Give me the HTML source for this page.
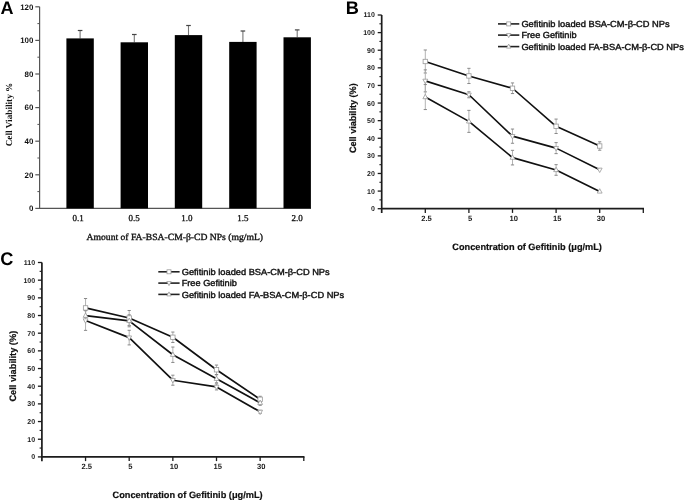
<!DOCTYPE html>
<html><head><meta charset="utf-8"><style>
html,body{margin:0;padding:0;background:#fff;}
body{width:685px;height:501px;overflow:hidden;font-family:"Liberation Sans", sans-serif;}
svg{display:block;will-change:transform;filter:blur(0.35px);} text{text-rendering:geometricPrecision;}
</style></head><body>
<svg width="685" height="501" viewBox="0 0 685 501">
<rect width="685" height="501" fill="#fff"/>
<text x="0.5" y="13.8" font-family="&quot;Liberation Sans&quot;, sans-serif" font-weight="bold" font-size="18" fill="#000">A</text>
<path d="M39.6 6.8V208.4H311.0" fill="none" stroke="#555" stroke-width="1.2"/>
<line x1="35.3" y1="208.4" x2="39.6" y2="208.4" stroke="#555" stroke-width="1.2"/>
<text x="33.3" y="211.2" text-anchor="end" font-family="&quot;Liberation Sans&quot;, sans-serif" font-weight="bold" font-size="7.9" fill="#111">0</text>
<line x1="37.4" y1="191.6" x2="39.6" y2="191.6" stroke="#555" stroke-width="1"/>
<line x1="35.3" y1="174.8" x2="39.6" y2="174.8" stroke="#555" stroke-width="1.2"/>
<text x="33.3" y="177.6" text-anchor="end" font-family="&quot;Liberation Sans&quot;, sans-serif" font-weight="bold" font-size="7.9" fill="#111">20</text>
<line x1="37.4" y1="158" x2="39.6" y2="158" stroke="#555" stroke-width="1"/>
<line x1="35.3" y1="141.2" x2="39.6" y2="141.2" stroke="#555" stroke-width="1.2"/>
<text x="33.3" y="144" text-anchor="end" font-family="&quot;Liberation Sans&quot;, sans-serif" font-weight="bold" font-size="7.9" fill="#111">40</text>
<line x1="37.4" y1="124.4" x2="39.6" y2="124.4" stroke="#555" stroke-width="1"/>
<line x1="35.3" y1="107.6" x2="39.6" y2="107.6" stroke="#555" stroke-width="1.2"/>
<text x="33.3" y="110.4" text-anchor="end" font-family="&quot;Liberation Sans&quot;, sans-serif" font-weight="bold" font-size="7.9" fill="#111">60</text>
<line x1="37.4" y1="90.8" x2="39.6" y2="90.8" stroke="#555" stroke-width="1"/>
<line x1="35.3" y1="74" x2="39.6" y2="74" stroke="#555" stroke-width="1.2"/>
<text x="33.3" y="76.8" text-anchor="end" font-family="&quot;Liberation Sans&quot;, sans-serif" font-weight="bold" font-size="7.9" fill="#111">80</text>
<line x1="37.4" y1="57.2" x2="39.6" y2="57.2" stroke="#555" stroke-width="1"/>
<line x1="35.3" y1="40.4" x2="39.6" y2="40.4" stroke="#555" stroke-width="1.2"/>
<text x="33.3" y="43.2" text-anchor="end" font-family="&quot;Liberation Sans&quot;, sans-serif" font-weight="bold" font-size="7.9" fill="#111">100</text>
<line x1="37.4" y1="23.6" x2="39.6" y2="23.6" stroke="#555" stroke-width="1"/>
<line x1="35.3" y1="6.8" x2="39.6" y2="6.8" stroke="#555" stroke-width="1.2"/>
<text x="33.3" y="9.6" text-anchor="end" font-family="&quot;Liberation Sans&quot;, sans-serif" font-weight="bold" font-size="7.9" fill="#111">120</text>
<line x1="80.1" y1="30.5" x2="80.1" y2="38.4" stroke="#777" stroke-width="1.1"/>
<line x1="77.8" y1="30.5" x2="82.4" y2="30.5" stroke="#444" stroke-width="1.2"/>
<rect x="66.4" y="38.4" width="27.4" height="170" fill="#000"/>
<text x="78.05" y="220.5" text-anchor="middle" font-family="&quot;Liberation Serif&quot;, serif" font-size="9" fill="#111" stroke="#111" stroke-width="0.3">0.1</text>
<line x1="134.3" y1="34.5" x2="134.3" y2="42.3" stroke="#777" stroke-width="1.1"/>
<line x1="132" y1="34.5" x2="136.6" y2="34.5" stroke="#444" stroke-width="1.2"/>
<rect x="120.6" y="42.3" width="27.4" height="166.1" fill="#000"/>
<text x="134.2" y="220.5" text-anchor="middle" font-family="&quot;Liberation Serif&quot;, serif" font-size="9" fill="#111" stroke="#111" stroke-width="0.3">0.5</text>
<line x1="188.5" y1="25.5" x2="188.5" y2="35.1" stroke="#777" stroke-width="1.1"/>
<line x1="186.2" y1="25.5" x2="190.8" y2="25.5" stroke="#444" stroke-width="1.2"/>
<rect x="174.8" y="35.1" width="27.4" height="173.3" fill="#000"/>
<text x="186.9" y="220.5" text-anchor="middle" font-family="&quot;Liberation Serif&quot;, serif" font-size="9" fill="#111" stroke="#111" stroke-width="0.3">1.0</text>
<line x1="242.9" y1="31" x2="242.9" y2="41.9" stroke="#777" stroke-width="1.1"/>
<line x1="240.6" y1="31" x2="245.2" y2="31" stroke="#444" stroke-width="1.2"/>
<rect x="229.2" y="41.9" width="27.4" height="166.5" fill="#000"/>
<text x="242.9" y="220.5" text-anchor="middle" font-family="&quot;Liberation Serif&quot;, serif" font-size="9" fill="#111" stroke="#111" stroke-width="0.3">1.5</text>
<line x1="297.2" y1="29.9" x2="297.2" y2="37.3" stroke="#777" stroke-width="1.1"/>
<line x1="294.9" y1="29.9" x2="299.5" y2="29.9" stroke="#444" stroke-width="1.2"/>
<rect x="283.5" y="37.3" width="27.4" height="171.1" fill="#000"/>
<text x="297.2" y="220.5" text-anchor="middle" font-family="&quot;Liberation Serif&quot;, serif" font-size="9" fill="#111" stroke="#111" stroke-width="0.3">2.0</text>
<text x="86.6" y="240.2" font-family="&quot;Liberation Serif&quot;, serif" font-size="9.4" fill="#111" textLength="176.4" lengthAdjust="spacingAndGlyphs" stroke="#111" stroke-width="0.35">Amount of FA-BSA-CM-&#946;-CD NPs (mg/mL)</text>
<text transform="translate(12.3 114.5) rotate(-90)" text-anchor="middle" font-family="&quot;Liberation Serif&quot;, serif" font-weight="bold" font-size="9.2" fill="#111" textLength="63.6" lengthAdjust="spacingAndGlyphs">Cell Viability %</text>
<text x="345.8" y="13.6" font-family="&quot;Liberation Sans&quot;, sans-serif" font-weight="bold" font-size="18.2" fill="#000">B</text>
<path d="M381.7 15V213M380.9 208.7H644" fill="none" stroke="#1c1c1c" stroke-width="1.7"/>
<line x1="377.7" y1="208.7" x2="381.7" y2="208.7" stroke="#1c1c1c" stroke-width="1.3"/>
<text x="374.9" y="211.15" text-anchor="end" font-family="&quot;Liberation Sans&quot;, sans-serif" font-weight="bold" font-size="7" fill="#1a1a1a">0</text>
<line x1="379.4" y1="199.9" x2="381.7" y2="199.9" stroke="#1c1c1c" stroke-width="1.1"/>
<line x1="377.7" y1="191.09" x2="381.7" y2="191.09" stroke="#1c1c1c" stroke-width="1.3"/>
<text x="374.9" y="193.54" text-anchor="end" font-family="&quot;Liberation Sans&quot;, sans-serif" font-weight="bold" font-size="7" fill="#1a1a1a">10</text>
<line x1="379.4" y1="182.29" x2="381.7" y2="182.29" stroke="#1c1c1c" stroke-width="1.1"/>
<line x1="377.7" y1="173.48" x2="381.7" y2="173.48" stroke="#1c1c1c" stroke-width="1.3"/>
<text x="374.9" y="175.93" text-anchor="end" font-family="&quot;Liberation Sans&quot;, sans-serif" font-weight="bold" font-size="7" fill="#1a1a1a">20</text>
<line x1="379.4" y1="164.68" x2="381.7" y2="164.68" stroke="#1c1c1c" stroke-width="1.1"/>
<line x1="377.7" y1="155.87" x2="381.7" y2="155.87" stroke="#1c1c1c" stroke-width="1.3"/>
<text x="374.9" y="158.32" text-anchor="end" font-family="&quot;Liberation Sans&quot;, sans-serif" font-weight="bold" font-size="7" fill="#1a1a1a">30</text>
<line x1="379.4" y1="147.07" x2="381.7" y2="147.07" stroke="#1c1c1c" stroke-width="1.1"/>
<line x1="377.7" y1="138.26" x2="381.7" y2="138.26" stroke="#1c1c1c" stroke-width="1.3"/>
<text x="374.9" y="140.71" text-anchor="end" font-family="&quot;Liberation Sans&quot;, sans-serif" font-weight="bold" font-size="7" fill="#1a1a1a">40</text>
<line x1="379.4" y1="129.46" x2="381.7" y2="129.46" stroke="#1c1c1c" stroke-width="1.1"/>
<line x1="377.7" y1="120.65" x2="381.7" y2="120.65" stroke="#1c1c1c" stroke-width="1.3"/>
<text x="374.9" y="123.1" text-anchor="end" font-family="&quot;Liberation Sans&quot;, sans-serif" font-weight="bold" font-size="7" fill="#1a1a1a">50</text>
<line x1="379.4" y1="111.85" x2="381.7" y2="111.85" stroke="#1c1c1c" stroke-width="1.1"/>
<line x1="377.7" y1="103.05" x2="381.7" y2="103.05" stroke="#1c1c1c" stroke-width="1.3"/>
<text x="374.9" y="105.5" text-anchor="end" font-family="&quot;Liberation Sans&quot;, sans-serif" font-weight="bold" font-size="7" fill="#1a1a1a">60</text>
<line x1="379.4" y1="94.24" x2="381.7" y2="94.24" stroke="#1c1c1c" stroke-width="1.1"/>
<line x1="377.7" y1="85.44" x2="381.7" y2="85.44" stroke="#1c1c1c" stroke-width="1.3"/>
<text x="374.9" y="87.89" text-anchor="end" font-family="&quot;Liberation Sans&quot;, sans-serif" font-weight="bold" font-size="7" fill="#1a1a1a">70</text>
<line x1="379.4" y1="76.63" x2="381.7" y2="76.63" stroke="#1c1c1c" stroke-width="1.1"/>
<line x1="377.7" y1="67.83" x2="381.7" y2="67.83" stroke="#1c1c1c" stroke-width="1.3"/>
<text x="374.9" y="70.28" text-anchor="end" font-family="&quot;Liberation Sans&quot;, sans-serif" font-weight="bold" font-size="7" fill="#1a1a1a">80</text>
<line x1="379.4" y1="59.02" x2="381.7" y2="59.02" stroke="#1c1c1c" stroke-width="1.1"/>
<line x1="377.7" y1="50.22" x2="381.7" y2="50.22" stroke="#1c1c1c" stroke-width="1.3"/>
<text x="374.9" y="52.67" text-anchor="end" font-family="&quot;Liberation Sans&quot;, sans-serif" font-weight="bold" font-size="7" fill="#1a1a1a">90</text>
<line x1="379.4" y1="41.41" x2="381.7" y2="41.41" stroke="#1c1c1c" stroke-width="1.1"/>
<line x1="377.7" y1="32.61" x2="381.7" y2="32.61" stroke="#1c1c1c" stroke-width="1.3"/>
<text x="374.9" y="35.06" text-anchor="end" font-family="&quot;Liberation Sans&quot;, sans-serif" font-weight="bold" font-size="7" fill="#1a1a1a">100</text>
<line x1="379.4" y1="23.8" x2="381.7" y2="23.8" stroke="#1c1c1c" stroke-width="1.1"/>
<line x1="377.7" y1="15" x2="381.7" y2="15" stroke="#1c1c1c" stroke-width="1.3"/>
<text x="374.9" y="17.45" text-anchor="end" font-family="&quot;Liberation Sans&quot;, sans-serif" font-weight="bold" font-size="7" fill="#1a1a1a">110</text>
<line x1="425.3" y1="208.7" x2="425.3" y2="212.9" stroke="#1c1c1c" stroke-width="1.3"/>
<text x="426.5" y="220.6" text-anchor="middle" font-family="&quot;Liberation Sans&quot;, sans-serif" font-weight="bold" font-size="7.6" fill="#1a1a1a">2.5</text>
<line x1="468.9" y1="208.7" x2="468.9" y2="212.9" stroke="#1c1c1c" stroke-width="1.3"/>
<text x="470.1" y="220.6" text-anchor="middle" font-family="&quot;Liberation Sans&quot;, sans-serif" font-weight="bold" font-size="7.6" fill="#1a1a1a">5</text>
<line x1="512.5" y1="208.7" x2="512.5" y2="212.9" stroke="#1c1c1c" stroke-width="1.3"/>
<text x="513.7" y="220.6" text-anchor="middle" font-family="&quot;Liberation Sans&quot;, sans-serif" font-weight="bold" font-size="7.6" fill="#1a1a1a">10</text>
<line x1="556.1" y1="208.7" x2="556.1" y2="212.9" stroke="#1c1c1c" stroke-width="1.3"/>
<text x="557.3" y="220.6" text-anchor="middle" font-family="&quot;Liberation Sans&quot;, sans-serif" font-weight="bold" font-size="7.6" fill="#1a1a1a">15</text>
<line x1="599.7" y1="208.7" x2="599.7" y2="212.9" stroke="#1c1c1c" stroke-width="1.3"/>
<text x="600.9" y="220.6" text-anchor="middle" font-family="&quot;Liberation Sans&quot;, sans-serif" font-weight="bold" font-size="7.6" fill="#1a1a1a">30</text>
<line x1="643.3" y1="208.7" x2="643.3" y2="212.9" stroke="#1c1c1c" stroke-width="1.3"/>
<text x="452.3" y="249.9" font-family="&quot;Liberation Sans&quot;, sans-serif" font-weight="bold" font-size="9.3" fill="#111" textLength="149.6" lengthAdjust="spacingAndGlyphs" stroke="#111" stroke-width="0.2">Concentration of Gefitinib (&#956;g/mL)</text>
<text transform="translate(356.3 118.2) rotate(-90)" text-anchor="middle" font-family="&quot;Liberation Sans&quot;, sans-serif" font-weight="bold" font-size="9.3" fill="#111" stroke="#111" stroke-width="0.2" textLength="69.8" lengthAdjust="spacingAndGlyphs">Cell viability (%)</text>
<path d="M425.3 49.99V72.99" stroke="#aaa" stroke-width="0.9" fill="none"/>
<path d="M423.7 49.99H426.9M423.7 72.99H426.9" stroke="#888" stroke-width="1" fill="none"/>
<path d="M468.9 68.33V83.53" stroke="#aaa" stroke-width="0.9" fill="none"/>
<path d="M467.3 68.33H470.5M467.3 83.53H470.5" stroke="#888" stroke-width="1" fill="none"/>
<path d="M512.5 82.95V93.55" stroke="#aaa" stroke-width="0.9" fill="none"/>
<path d="M510.9 82.95H514.1M510.9 93.55H514.1" stroke="#888" stroke-width="1" fill="none"/>
<path d="M556.1 119.09V133.49" stroke="#aaa" stroke-width="0.9" fill="none"/>
<path d="M554.5 119.09H557.7M554.5 133.49H557.7" stroke="#888" stroke-width="1" fill="none"/>
<path d="M599.7 141.81V150.21" stroke="#aaa" stroke-width="0.9" fill="none"/>
<path d="M598.1 141.81H601.3M598.1 150.21H601.3" stroke="#888" stroke-width="1" fill="none"/>
<path d="M425.3 69.86V91.86" stroke="#aaa" stroke-width="0.9" fill="none"/>
<path d="M423.7 69.86H426.9M423.7 91.86H426.9" stroke="#888" stroke-width="1" fill="none"/>
<path d="M468.9 91.77V97.77" stroke="#aaa" stroke-width="0.9" fill="none"/>
<path d="M467.3 91.77H470.5M467.3 97.77H470.5" stroke="#888" stroke-width="1" fill="none"/>
<path d="M512.5 129.05V143.25" stroke="#aaa" stroke-width="0.9" fill="none"/>
<path d="M510.9 129.05H514.1M510.9 143.25H514.1" stroke="#888" stroke-width="1" fill="none"/>
<path d="M556.1 142.62V153.62" stroke="#aaa" stroke-width="0.9" fill="none"/>
<path d="M554.5 142.62H557.7M554.5 153.62H557.7" stroke="#888" stroke-width="1" fill="none"/>
<path d="M425.3 84.56V109.56" stroke="#aaa" stroke-width="0.9" fill="none"/>
<path d="M423.7 84.56H426.9M423.7 109.56H426.9" stroke="#888" stroke-width="1" fill="none"/>
<path d="M468.9 110.36V132.36" stroke="#aaa" stroke-width="0.9" fill="none"/>
<path d="M467.3 110.36H470.5M467.3 132.36H470.5" stroke="#888" stroke-width="1" fill="none"/>
<path d="M512.5 150.33V164.93" stroke="#aaa" stroke-width="0.9" fill="none"/>
<path d="M510.9 150.33H514.1M510.9 164.93H514.1" stroke="#888" stroke-width="1" fill="none"/>
<path d="M556.1 164.66V175.26" stroke="#aaa" stroke-width="0.9" fill="none"/>
<path d="M554.5 164.66H557.7M554.5 175.26H557.7" stroke="#888" stroke-width="1" fill="none"/>
<path d="M425.3 61.49 L468.9 75.93 L512.5 88.25 L556.1 126.29 L599.7 146.01" fill="none" stroke="#111" stroke-width="1.65" stroke-linejoin="round"/>
<path d="M425.3 80.86 L468.9 94.77 L512.5 136.15 L556.1 148.12 L599.7 169.78" fill="none" stroke="#111" stroke-width="1.65" stroke-linejoin="round"/>
<path d="M425.3 97.06 L468.9 121.36 L512.5 157.63 L556.1 169.96 L599.7 191.44" fill="none" stroke="#111" stroke-width="1.65" stroke-linejoin="round"/>
<rect x="423.1" y="59.29" width="4.4" height="4.4" fill="#fff" stroke="#999" stroke-width="0.8"/>
<rect x="466.7" y="73.73" width="4.4" height="4.4" fill="#fff" stroke="#999" stroke-width="0.8"/>
<rect x="510.3" y="86.05" width="4.4" height="4.4" fill="#fff" stroke="#999" stroke-width="0.8"/>
<rect x="553.9" y="124.09" width="4.4" height="4.4" fill="#fff" stroke="#999" stroke-width="0.8"/>
<rect x="597.5" y="143.81" width="4.4" height="4.4" fill="#fff" stroke="#999" stroke-width="0.8"/>
<path d="M422.88 79.21H427.72L425.3 83.61Z" fill="#fff" stroke="#999" stroke-width="0.8"/>
<path d="M466.48 93.12H471.32L468.9 97.52Z" fill="#fff" stroke="#999" stroke-width="0.8"/>
<path d="M510.08 134.5H514.92L512.5 138.9Z" fill="#fff" stroke="#999" stroke-width="0.8"/>
<path d="M553.68 146.47H558.52L556.1 150.87Z" fill="#fff" stroke="#999" stroke-width="0.8"/>
<path d="M597.28 168.13H602.12L599.7 172.53Z" fill="#fff" stroke="#999" stroke-width="0.8"/>
<path d="M422.88 98.71H427.72L425.3 94.31Z" fill="#fff" stroke="#999" stroke-width="0.8"/>
<path d="M466.48 123.01H471.32L468.9 118.61Z" fill="#fff" stroke="#999" stroke-width="0.8"/>
<path d="M510.08 159.28H514.92L512.5 154.88Z" fill="#fff" stroke="#999" stroke-width="0.8"/>
<path d="M553.68 171.61H558.52L556.1 167.21Z" fill="#fff" stroke="#999" stroke-width="0.8"/>
<path d="M597.28 193.09H602.12L599.7 188.69Z" fill="#fff" stroke="#999" stroke-width="0.8"/>
<line x1="498" y1="23.9" x2="519.3" y2="23.9" stroke="#222" stroke-width="1.6"/>
<rect x="506.7" y="21.9" width="4" height="4" fill="#fff" stroke="#999" stroke-width="0.8"/>
<text x="521.4" y="27" font-family="&quot;Liberation Sans&quot;, sans-serif" font-size="8.8" fill="#111" textLength="148.2" lengthAdjust="spacingAndGlyphs" stroke="#111" stroke-width="0.4">Gefitinib loaded BSA-CM-&#946;-CD NPs</text>
<line x1="498" y1="35.1" x2="519.3" y2="35.1" stroke="#222" stroke-width="1.6"/>
<path d="M506.5 33.6H510.9L508.7 37.6Z" fill="#fff" stroke="#999" stroke-width="0.8"/>
<text x="521.4" y="38.2" font-family="&quot;Liberation Sans&quot;, sans-serif" font-size="8.8" fill="#111" textLength="55.2" lengthAdjust="spacingAndGlyphs" stroke="#111" stroke-width="0.4">Free Gefitinib</text>
<line x1="498" y1="46.6" x2="519.3" y2="46.6" stroke="#222" stroke-width="1.6"/>
<path d="M506.5 48.1H510.9L508.7 44.1Z" fill="#fff" stroke="#999" stroke-width="0.8"/>
<text x="521.4" y="49.7" font-family="&quot;Liberation Sans&quot;, sans-serif" font-size="8.8" fill="#111" textLength="162.5" lengthAdjust="spacingAndGlyphs" stroke="#111" stroke-width="0.4">Gefitinib loaded FA-BSA-CM-&#946;-CD NPs</text>
<text x="0.2" y="264.7" font-family="&quot;Liberation Sans&quot;, sans-serif" font-weight="bold" font-size="18.2" fill="#000">C</text>
<path d="M41.9 262.5V461.2M41.1 456.9H304.5" fill="none" stroke="#1c1c1c" stroke-width="1.7"/>
<line x1="37.9" y1="456.9" x2="41.9" y2="456.9" stroke="#1c1c1c" stroke-width="1.3"/>
<text x="35.1" y="459.35" text-anchor="end" font-family="&quot;Liberation Sans&quot;, sans-serif" font-weight="bold" font-size="7" fill="#1a1a1a">0</text>
<line x1="39.6" y1="448.06" x2="41.9" y2="448.06" stroke="#1c1c1c" stroke-width="1.1"/>
<line x1="37.9" y1="439.23" x2="41.9" y2="439.23" stroke="#1c1c1c" stroke-width="1.3"/>
<text x="35.1" y="441.68" text-anchor="end" font-family="&quot;Liberation Sans&quot;, sans-serif" font-weight="bold" font-size="7" fill="#1a1a1a">10</text>
<line x1="39.6" y1="430.39" x2="41.9" y2="430.39" stroke="#1c1c1c" stroke-width="1.1"/>
<line x1="37.9" y1="421.55" x2="41.9" y2="421.55" stroke="#1c1c1c" stroke-width="1.3"/>
<text x="35.1" y="424" text-anchor="end" font-family="&quot;Liberation Sans&quot;, sans-serif" font-weight="bold" font-size="7" fill="#1a1a1a">20</text>
<line x1="39.6" y1="412.72" x2="41.9" y2="412.72" stroke="#1c1c1c" stroke-width="1.1"/>
<line x1="37.9" y1="403.88" x2="41.9" y2="403.88" stroke="#1c1c1c" stroke-width="1.3"/>
<text x="35.1" y="406.33" text-anchor="end" font-family="&quot;Liberation Sans&quot;, sans-serif" font-weight="bold" font-size="7" fill="#1a1a1a">30</text>
<line x1="39.6" y1="395.05" x2="41.9" y2="395.05" stroke="#1c1c1c" stroke-width="1.1"/>
<line x1="37.9" y1="386.21" x2="41.9" y2="386.21" stroke="#1c1c1c" stroke-width="1.3"/>
<text x="35.1" y="388.66" text-anchor="end" font-family="&quot;Liberation Sans&quot;, sans-serif" font-weight="bold" font-size="7" fill="#1a1a1a">40</text>
<line x1="39.6" y1="377.37" x2="41.9" y2="377.37" stroke="#1c1c1c" stroke-width="1.1"/>
<line x1="37.9" y1="368.54" x2="41.9" y2="368.54" stroke="#1c1c1c" stroke-width="1.3"/>
<text x="35.1" y="370.99" text-anchor="end" font-family="&quot;Liberation Sans&quot;, sans-serif" font-weight="bold" font-size="7" fill="#1a1a1a">50</text>
<line x1="39.6" y1="359.7" x2="41.9" y2="359.7" stroke="#1c1c1c" stroke-width="1.1"/>
<line x1="37.9" y1="350.86" x2="41.9" y2="350.86" stroke="#1c1c1c" stroke-width="1.3"/>
<text x="35.1" y="353.31" text-anchor="end" font-family="&quot;Liberation Sans&quot;, sans-serif" font-weight="bold" font-size="7" fill="#1a1a1a">60</text>
<line x1="39.6" y1="342.03" x2="41.9" y2="342.03" stroke="#1c1c1c" stroke-width="1.1"/>
<line x1="37.9" y1="333.19" x2="41.9" y2="333.19" stroke="#1c1c1c" stroke-width="1.3"/>
<text x="35.1" y="335.64" text-anchor="end" font-family="&quot;Liberation Sans&quot;, sans-serif" font-weight="bold" font-size="7" fill="#1a1a1a">70</text>
<line x1="39.6" y1="324.35" x2="41.9" y2="324.35" stroke="#1c1c1c" stroke-width="1.1"/>
<line x1="37.9" y1="315.52" x2="41.9" y2="315.52" stroke="#1c1c1c" stroke-width="1.3"/>
<text x="35.1" y="317.97" text-anchor="end" font-family="&quot;Liberation Sans&quot;, sans-serif" font-weight="bold" font-size="7" fill="#1a1a1a">80</text>
<line x1="39.6" y1="306.68" x2="41.9" y2="306.68" stroke="#1c1c1c" stroke-width="1.1"/>
<line x1="37.9" y1="297.85" x2="41.9" y2="297.85" stroke="#1c1c1c" stroke-width="1.3"/>
<text x="35.1" y="300.3" text-anchor="end" font-family="&quot;Liberation Sans&quot;, sans-serif" font-weight="bold" font-size="7" fill="#1a1a1a">90</text>
<line x1="39.6" y1="289.01" x2="41.9" y2="289.01" stroke="#1c1c1c" stroke-width="1.1"/>
<line x1="37.9" y1="280.17" x2="41.9" y2="280.17" stroke="#1c1c1c" stroke-width="1.3"/>
<text x="35.1" y="282.62" text-anchor="end" font-family="&quot;Liberation Sans&quot;, sans-serif" font-weight="bold" font-size="7" fill="#1a1a1a">100</text>
<line x1="39.6" y1="271.34" x2="41.9" y2="271.34" stroke="#1c1c1c" stroke-width="1.1"/>
<line x1="37.9" y1="262.5" x2="41.9" y2="262.5" stroke="#1c1c1c" stroke-width="1.3"/>
<text x="35.1" y="264.95" text-anchor="end" font-family="&quot;Liberation Sans&quot;, sans-serif" font-weight="bold" font-size="7" fill="#1a1a1a">110</text>
<line x1="85.55" y1="456.9" x2="85.55" y2="461.1" stroke="#1c1c1c" stroke-width="1.3"/>
<text x="86.75" y="468.5" text-anchor="middle" font-family="&quot;Liberation Sans&quot;, sans-serif" font-weight="bold" font-size="7.6" fill="#1a1a1a">2.5</text>
<line x1="129.2" y1="456.9" x2="129.2" y2="461.1" stroke="#1c1c1c" stroke-width="1.3"/>
<text x="130.4" y="468.5" text-anchor="middle" font-family="&quot;Liberation Sans&quot;, sans-serif" font-weight="bold" font-size="7.6" fill="#1a1a1a">5</text>
<line x1="172.85" y1="456.9" x2="172.85" y2="461.1" stroke="#1c1c1c" stroke-width="1.3"/>
<text x="174.05" y="468.5" text-anchor="middle" font-family="&quot;Liberation Sans&quot;, sans-serif" font-weight="bold" font-size="7.6" fill="#1a1a1a">10</text>
<line x1="216.5" y1="456.9" x2="216.5" y2="461.1" stroke="#1c1c1c" stroke-width="1.3"/>
<text x="217.7" y="468.5" text-anchor="middle" font-family="&quot;Liberation Sans&quot;, sans-serif" font-weight="bold" font-size="7.6" fill="#1a1a1a">15</text>
<line x1="260.15" y1="456.9" x2="260.15" y2="461.1" stroke="#1c1c1c" stroke-width="1.3"/>
<text x="261.35" y="468.5" text-anchor="middle" font-family="&quot;Liberation Sans&quot;, sans-serif" font-weight="bold" font-size="7.6" fill="#1a1a1a">30</text>
<line x1="303.8" y1="456.9" x2="303.8" y2="461.1" stroke="#1c1c1c" stroke-width="1.3"/>
<text x="112.5" y="497.7" font-family="&quot;Liberation Sans&quot;, sans-serif" font-weight="bold" font-size="9.3" fill="#111" textLength="150.2" lengthAdjust="spacingAndGlyphs" stroke="#111" stroke-width="0.2">Concentration of Gefitinib (&#956;g/mL)</text>
<text transform="translate(16.3 366.2) rotate(-90)" text-anchor="middle" font-family="&quot;Liberation Sans&quot;, sans-serif" font-weight="bold" font-size="9.3" fill="#111" stroke="#111" stroke-width="0.2" textLength="70.8" lengthAdjust="spacingAndGlyphs">Cell viability (%)</text>
<path d="M85.55 298.52V317.32" stroke="#aaa" stroke-width="0.9" fill="none"/>
<path d="M83.95 298.52H87.15M83.95 317.32H87.15" stroke="#888" stroke-width="1" fill="none"/>
<path d="M129.2 310.49V325.49" stroke="#aaa" stroke-width="0.9" fill="none"/>
<path d="M127.6 310.49H130.8M127.6 325.49H130.8" stroke="#888" stroke-width="1" fill="none"/>
<path d="M172.85 332.06V342.46" stroke="#aaa" stroke-width="0.9" fill="none"/>
<path d="M171.25 332.06H174.45M171.25 342.46H174.45" stroke="#888" stroke-width="1" fill="none"/>
<path d="M216.5 365.07V374.47" stroke="#aaa" stroke-width="0.9" fill="none"/>
<path d="M214.9 365.07H218.1M214.9 374.47H218.1" stroke="#888" stroke-width="1" fill="none"/>
<path d="M260.15 396.29V402.29" stroke="#aaa" stroke-width="0.9" fill="none"/>
<path d="M258.55 396.29H261.75M258.55 402.29H261.75" stroke="#888" stroke-width="1" fill="none"/>
<path d="M85.55 310.57V330.37" stroke="#aaa" stroke-width="0.9" fill="none"/>
<path d="M83.95 310.57H87.15M83.95 330.37H87.15" stroke="#888" stroke-width="1" fill="none"/>
<path d="M129.2 330.31V344.91" stroke="#aaa" stroke-width="0.9" fill="none"/>
<path d="M127.6 330.31H130.8M127.6 344.91H130.8" stroke="#888" stroke-width="1" fill="none"/>
<path d="M172.85 375.2V385.2" stroke="#aaa" stroke-width="0.9" fill="none"/>
<path d="M171.25 375.2H174.45M171.25 385.2H174.45" stroke="#888" stroke-width="1" fill="none"/>
<path d="M216.5 383.92V389.92" stroke="#aaa" stroke-width="0.9" fill="none"/>
<path d="M214.9 383.92H218.1M214.9 389.92H218.1" stroke="#888" stroke-width="1" fill="none"/>
<path d="M260.15 410.33V413.33" stroke="#aaa" stroke-width="0.9" fill="none"/>
<path d="M258.55 410.33H261.75M258.55 413.33H261.75" stroke="#888" stroke-width="1" fill="none"/>
<path d="M85.55 310.69V320.69" stroke="#aaa" stroke-width="0.9" fill="none"/>
<path d="M83.95 310.69H87.15M83.95 320.69H87.15" stroke="#888" stroke-width="1" fill="none"/>
<path d="M129.2 314.82V326.82" stroke="#aaa" stroke-width="0.9" fill="none"/>
<path d="M127.6 314.82H130.8M127.6 326.82H130.8" stroke="#888" stroke-width="1" fill="none"/>
<path d="M172.85 347.05V362.45" stroke="#aaa" stroke-width="0.9" fill="none"/>
<path d="M171.25 347.05H174.45M171.25 362.45H174.45" stroke="#888" stroke-width="1" fill="none"/>
<path d="M216.5 374.79V382.79" stroke="#aaa" stroke-width="0.9" fill="none"/>
<path d="M214.9 374.79H218.1M214.9 382.79H218.1" stroke="#888" stroke-width="1" fill="none"/>
<path d="M260.15 400.32V405.32" stroke="#aaa" stroke-width="0.9" fill="none"/>
<path d="M258.55 400.32H261.75M258.55 405.32H261.75" stroke="#888" stroke-width="1" fill="none"/>
<path d="M85.55 307.92 L129.2 317.99 L172.85 337.26 L216.5 369.77 L260.15 399.29" fill="none" stroke="#111" stroke-width="1.65" stroke-linejoin="round"/>
<path d="M85.55 320.47 L129.2 337.61 L172.85 380.2 L216.5 386.92 L260.15 411.83" fill="none" stroke="#111" stroke-width="1.65" stroke-linejoin="round"/>
<path d="M85.55 315.69 L129.2 320.82 L172.85 354.75 L216.5 378.79 L260.15 402.82" fill="none" stroke="#111" stroke-width="1.65" stroke-linejoin="round"/>
<rect x="83.35" y="305.72" width="4.4" height="4.4" fill="#fff" stroke="#999" stroke-width="0.8"/>
<rect x="127" y="315.79" width="4.4" height="4.4" fill="#fff" stroke="#999" stroke-width="0.8"/>
<rect x="170.65" y="335.06" width="4.4" height="4.4" fill="#fff" stroke="#999" stroke-width="0.8"/>
<rect x="214.3" y="367.57" width="4.4" height="4.4" fill="#fff" stroke="#999" stroke-width="0.8"/>
<rect x="257.95" y="397.09" width="4.4" height="4.4" fill="#fff" stroke="#999" stroke-width="0.8"/>
<path d="M83.13 318.82H87.97L85.55 323.22Z" fill="#fff" stroke="#999" stroke-width="0.8"/>
<path d="M126.78 335.96H131.62L129.2 340.36Z" fill="#fff" stroke="#999" stroke-width="0.8"/>
<path d="M170.43 378.55H175.27L172.85 382.95Z" fill="#fff" stroke="#999" stroke-width="0.8"/>
<path d="M214.08 385.27H218.92L216.5 389.67Z" fill="#fff" stroke="#999" stroke-width="0.8"/>
<path d="M257.73 410.18H262.57L260.15 414.58Z" fill="#fff" stroke="#999" stroke-width="0.8"/>
<path d="M83.13 317.34H87.97L85.55 312.94Z" fill="#fff" stroke="#999" stroke-width="0.8"/>
<path d="M126.78 322.47H131.62L129.2 318.07Z" fill="#fff" stroke="#999" stroke-width="0.8"/>
<path d="M170.43 356.4H175.27L172.85 352Z" fill="#fff" stroke="#999" stroke-width="0.8"/>
<path d="M214.08 380.44H218.92L216.5 376.04Z" fill="#fff" stroke="#999" stroke-width="0.8"/>
<path d="M257.73 404.47H262.57L260.15 400.07Z" fill="#fff" stroke="#999" stroke-width="0.8"/>
<line x1="158.3" y1="271.8" x2="179.6" y2="271.8" stroke="#222" stroke-width="1.6"/>
<rect x="167" y="269.8" width="4" height="4" fill="#fff" stroke="#999" stroke-width="0.8"/>
<text x="181.7" y="274.9" font-family="&quot;Liberation Sans&quot;, sans-serif" font-size="8.8" fill="#111" textLength="148" lengthAdjust="spacingAndGlyphs" stroke="#111" stroke-width="0.4">Gefitinib loaded BSA-CM-&#946;-CD NPs</text>
<line x1="158.3" y1="283.1" x2="179.6" y2="283.1" stroke="#222" stroke-width="1.6"/>
<path d="M166.8 281.6H171.2L169 285.6Z" fill="#fff" stroke="#999" stroke-width="0.8"/>
<text x="181.7" y="286.2" font-family="&quot;Liberation Sans&quot;, sans-serif" font-size="8.8" fill="#111" textLength="55.2" lengthAdjust="spacingAndGlyphs" stroke="#111" stroke-width="0.4">Free Gefitinib</text>
<line x1="158.3" y1="294.4" x2="179.6" y2="294.4" stroke="#222" stroke-width="1.6"/>
<path d="M166.8 295.9H171.2L169 291.9Z" fill="#fff" stroke="#999" stroke-width="0.8"/>
<text x="181.7" y="297.5" font-family="&quot;Liberation Sans&quot;, sans-serif" font-size="8.8" fill="#111" textLength="162.5" lengthAdjust="spacingAndGlyphs" stroke="#111" stroke-width="0.4">Gefitinib loaded FA-BSA-CM-&#946;-CD NPs</text>
</svg>
</body></html>
